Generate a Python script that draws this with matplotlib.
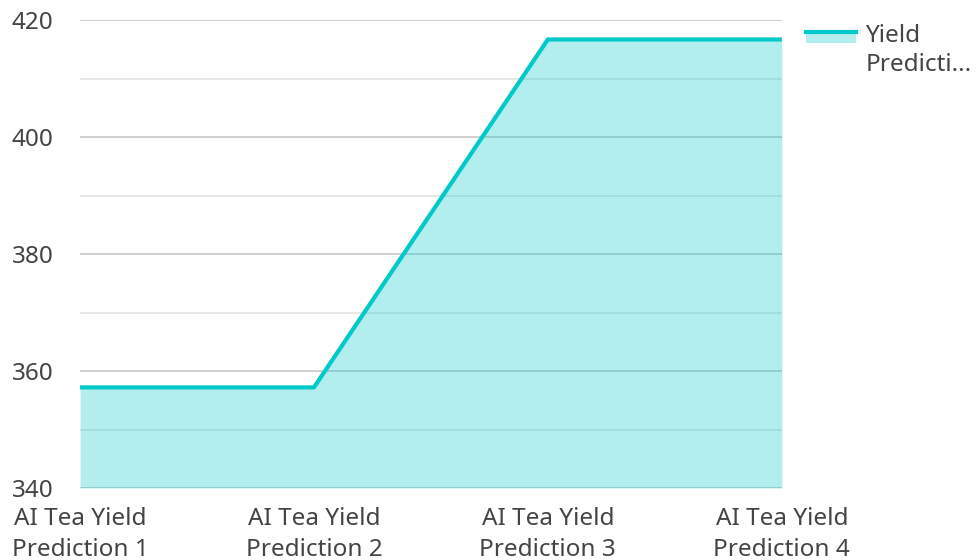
import matplotlib.pyplot as plt
from matplotlib.patches import Rectangle
from matplotlib.lines import Line2D
from matplotlib.legend_handler import HandlerBase

categories = ["AI Tea Yield\nPrediction 1", "AI Tea Yield\nPrediction 2",
              "AI Tea Yield\nPrediction 3", "AI Tea Yield\nPrediction 4"]
yield_pred = [357.2, 357.2, 416.7, 416.7]
series_name = "Yield\nPredicti..."

line_color = "#00c9c9"
text_color = "#444444"
fs = 17.5

plt.rcParams['font.family'] = ['Noto Sans', 'DejaVu Sans']


class FillLineHandler(HandlerBase):
    # line next to first text row, filled band just below it
    def create_artists(self, legend, orig_handle, xdescent, ydescent,
                       width, height, fontsize, trans):
        rect = Rectangle((-xdescent, -ydescent + height * 0.95), width, height * 0.65,
                         facecolor=line_color, alpha=0.3, edgecolor='none', transform=trans)
        ln = Line2D([-xdescent, -xdescent + width], [-ydescent + height * 1.6] * 2,
                    color=line_color, lw=3, transform=trans)
        return [rect, ln]


fig = plt.figure(figsize=(9.76, 5.6), dpi=100)
ax = fig.add_axes([0.082, 0.1286, 0.719, 0.8354])

x = list(range(len(categories)))
ax.fill_between(x, 340, yield_pred, color=line_color, alpha=0.3, lw=0, zorder=2)
ax.plot(x, yield_pred, color=line_color, lw=3, zorder=3, solid_capstyle='butt')

ax.set_xlim(0, len(categories) - 1)
ax.set_ylim(340, 420)
ax.set_yticks([340, 360, 380, 400, 420])
ax.set_yticks([350, 370, 390, 410], minor=True)
ax.grid(axis='y', which='major', color='#c8c8c8', lw=1.2, zorder=1)
ax.grid(axis='y', which='minor', color='#e4e4e4', lw=1.2, zorder=1)
ax.grid(axis='x', visible=False)
ax.set_axisbelow(True)
for s in ax.spines.values():
    s.set_visible(False)

ax.set_xticks(x)
ax.set_xticklabels(categories, fontsize=fs, color=text_color, linespacing=1.35)
ax.tick_params(axis='both', length=0, colors=text_color, labelsize=fs)
ax.tick_params(axis='y', which='major', pad=19)
ax.tick_params(axis='x', pad=14)
ax.tick_params(axis='y', which='minor', length=0)

handle = Rectangle((0, 0), 1, 1)
leg = fig.legend([handle], [series_name], handler_map={Rectangle: FillLineHandler()},
                 loc='upper left', bbox_to_anchor=(0.826, 0.958), frameon=False,
                 borderpad=0, borderaxespad=0,
                 fontsize=fs, handlelength=2.06, handletextpad=0.37, labelcolor=text_color)
for t in leg.get_texts():
    t.set_linespacing(1.3)

fig.savefig("out.png", dpi=100)
